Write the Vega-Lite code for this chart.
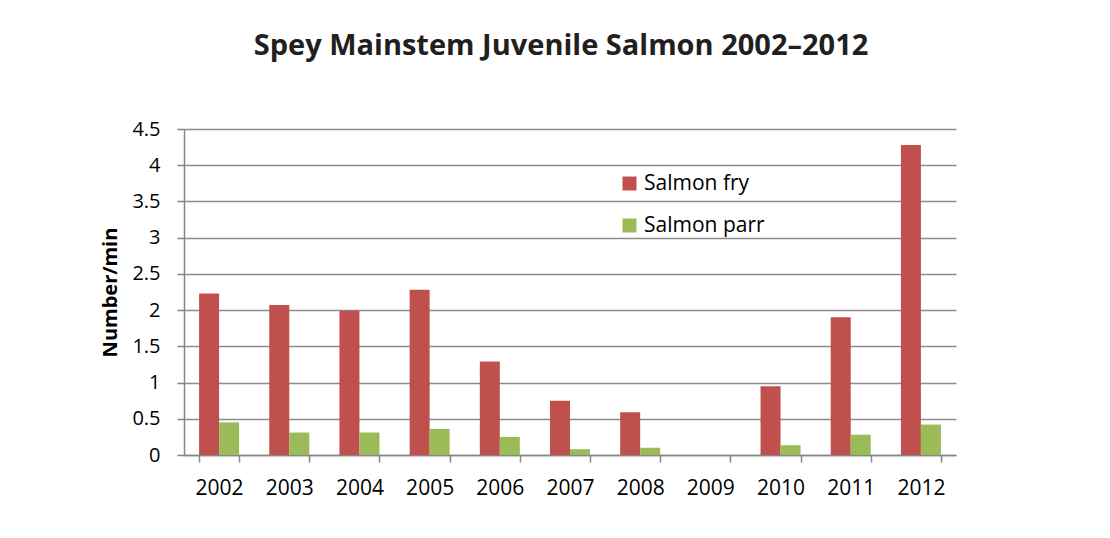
{
  "$schema": "https://vega.github.io/schema/vega-lite/v6.json",
  "width": 772,
  "height": 326,
  "autosize": {"type": "none"},
  "padding": {"left": 184, "top": 129, "right": 154, "bottom": 83},
  "background": "white",
  "title": {
    "text": "Spey Mainstem Juvenile Salmon 2002–2012",
    "font": "Open Sans",
    "fontSize": 29,
    "fontWeight": "bold",
    "color": "#231F20",
    "anchor": "middle",
    "baseline": "alphabetic",
    "offset": 35,
    "dx": -9
  },
  "data": {
    "values": [
      {"year": "2002", "series": "Salmon fry", "value": 2.23},
      {"year": "2002", "series": "Salmon parr", "value": 0.45},
      {"year": "2003", "series": "Salmon fry", "value": 2.07},
      {"year": "2003", "series": "Salmon parr", "value": 0.31},
      {"year": "2004", "series": "Salmon fry", "value": 1.99},
      {"year": "2004", "series": "Salmon parr", "value": 0.31},
      {"year": "2005", "series": "Salmon fry", "value": 2.28},
      {"year": "2005", "series": "Salmon parr", "value": 0.36},
      {"year": "2006", "series": "Salmon fry", "value": 1.29},
      {"year": "2006", "series": "Salmon parr", "value": 0.25},
      {"year": "2007", "series": "Salmon fry", "value": 0.75},
      {"year": "2007", "series": "Salmon parr", "value": 0.08},
      {"year": "2008", "series": "Salmon fry", "value": 0.59},
      {"year": "2008", "series": "Salmon parr", "value": 0.1},
      {"year": "2009", "series": "Salmon fry", "value": 0},
      {"year": "2009", "series": "Salmon parr", "value": 0},
      {"year": "2010", "series": "Salmon fry", "value": 0.95},
      {"year": "2010", "series": "Salmon parr", "value": 0.135},
      {"year": "2011", "series": "Salmon fry", "value": 1.9},
      {"year": "2011", "series": "Salmon parr", "value": 0.28},
      {"year": "2012", "series": "Salmon fry", "value": 4.28},
      {"year": "2012", "series": "Salmon parr", "value": 0.42}
    ]
  },
  "mark": {"type": "bar"},
  "encoding": {
    "x": {
      "field": "year",
      "type": "nominal",
      "sort": null,
      "scale": {"paddingInner": 0.43, "paddingOuter": 0.215},
      "axis": {
        "title": null,
        "labelAngle": 0,
        "labelFont": "Open Sans",
        "labelFontSize": 21,
        "labelColor": "#000000",
        "labelPadding": 15,
        "tickBand": "extent",
        "tickSize": 7,
        "tickColor": "#868686",
        "tickWidth": 1.5,
        "domainColor": "#868686",
        "domainWidth": 1.5,
        "grid": false
      }
    },
    "xOffset": {
      "field": "series",
      "type": "nominal",
      "scale": {"paddingInner": 0, "paddingOuter": 0}
    },
    "y": {
      "field": "value",
      "type": "quantitative",
      "scale": {"domain": [0, 4.5], "nice": false},
      "axis": {
        "title": "Number/min",
        "titleFont": "Open Sans",
        "titleFontSize": 20,
        "titleFontWeight": "bold",
        "titleColor": "#000000",
        "titlePadding": 11,
        "values": [0, 0.5, 1, 1.5, 2, 2.5, 3, 3.5, 4, 4.5],
        "format": "~g",
        "labelFont": "Open Sans",
        "labelFontSize": 20,
        "labelColor": "#000000",
        "labelPadding": 17,
        "tickSize": 7,
        "tickColor": "#868686",
        "tickWidth": 1.5,
        "domainColor": "#868686",
        "domainWidth": 1.5,
        "grid": true,
        "gridColor": "#8C8C8C",
        "gridWidth": 1.5
      }
    },
    "color": {
      "field": "series",
      "type": "nominal",
      "scale": {"domain": ["Salmon fry", "Salmon parr"], "range": ["#C0504D", "#9BBB59"]},
      "legend": {
        "title": null,
        "orient": "none",
        "legendX": 435,
        "legendY": 44,
        "symbolType": "square",
        "symbolSize": 196,
        "symbolStrokeWidth": 0,
        "symbolOpacity": 1,
        "labelFont": "Open Sans",
        "labelFontSize": 21,
        "labelColor": "#000000",
        "labelOffset": 4,
        "rowPadding": 20
      }
    }
  },
  "config": {
    "view": {"stroke": null}
  }
}
